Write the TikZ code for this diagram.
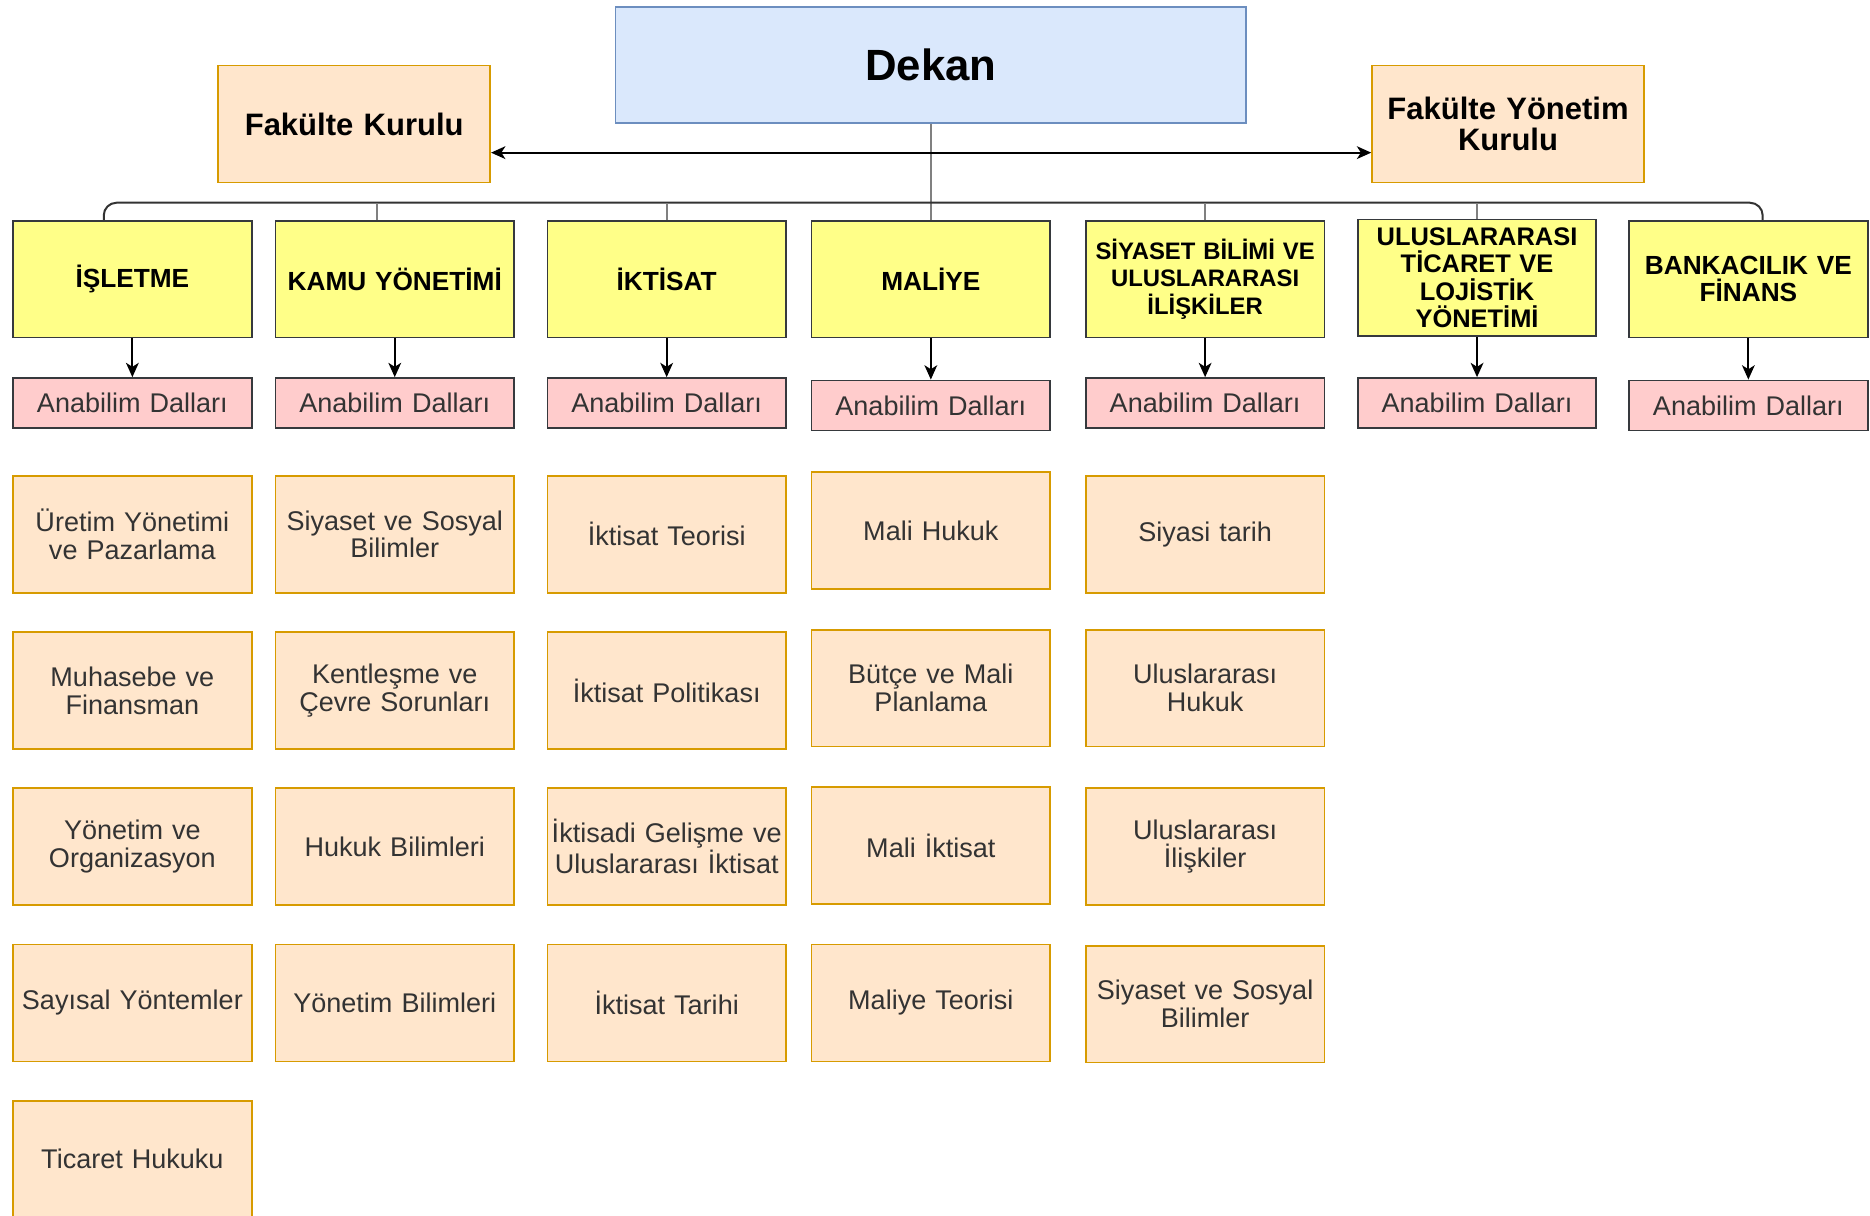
\documentclass[tikz,border=0pt]{standalone}
\usepackage{fontspec}
\setmainfont{Liberation Sans}
\usetikzlibrary{arrows.meta,calc}

\definecolor{dekanfill}{HTML}{DAE8FC}
\definecolor{dekanline}{HTML}{6C8EBF}
\definecolor{kurulfill}{HTML}{FFE6CC}
\definecolor{kurulline}{HTML}{D79B00}
\definecolor{bolumfill}{HTML}{FFFF88}
\definecolor{koyugri}{HTML}{36393D}
\definecolor{dalfill}{HTML}{FFCCCC}

\tikzset{every picture/.style={line width=0.75pt}}
\tikzset{
  dekanbox/.style={draw=dekanline, fill=dekanfill, line width=1.1pt, minimum width=396.75pt, minimum height=72.75pt, font=\fontsize{27.5}{30}\selectfont\bfseries},
  kurulbox/.style={draw=kurulline, fill=kurulfill, line width=1.1pt, minimum width=171pt, minimum height=73.5pt, text width=165pt, inner sep=3pt, align=center, font=\fontsize{19.5}{19.5}\selectfont\bfseries},
  bolumbox/.style={draw=koyugri, fill=bolumfill, line width=1.1pt, minimum width=150pt, minimum height=73.5pt, text width=146pt, inner sep=2pt, align=center, font=\fontsize{16.5}{17.25}\selectfont\bfseries},
  dalbox/.style={draw=koyugri, fill=dalfill, line width=1.1pt, minimum width=150pt, minimum height=31.5pt, text width=146pt, inner sep=2pt, align=center, text=black!80, font=\fontsize{17}{17.5}\selectfont},
  alanbox/.style={draw=kurulline, fill=kurulfill, line width=1.1pt, minimum width=150pt, minimum height=73.5pt, text width=146pt, inner sep=2pt, align=center, text=black!80, font=\fontsize{17}{17.5}\selectfont},
  ok/.style={-{Stealth[length=9pt,width=8pt,inset=2.5pt]}, black, line width=1.25pt},
  hat/.style={color=black!80, line width=1.25pt},
  kol/.style={color=black!50, line width=1.25pt},
}

\begin{document}
\begin{tikzpicture}[x=0.75pt,y=0.75pt,yscale=-1,xscale=1]
        \useasboundingbox (0,0) rectangle (1568,1019);

        %Shape: Rectangle [Dekan]
        \node[dekanbox] (dekan) at (780.5,54.5) {Dekan};
        %Shape: Rectangle [Kurullar]
        \node[kurulbox] (fk) at (297,104) {Fakülte Kurulu};
        \node[kurulbox] (fyk) at (1264.5,104) {Fakülte Yönetim\\Kurulu};

        %Shape: Rectangle [Bolumler]
        \node[bolumbox] (isl) at (111,234) {İŞLETME};
        \node[bolumbox] (kamu) at (331,234) {KAMU YÖNETİMİ};
        \node[bolumbox] (ikt) at (559,234) {İKTİSAT};
        \node[bolumbox] (mal) at (780.5,234) {MALİYE};
        \node[bolumbox, font=\fontsize{15}{17.25}\selectfont\bfseries] (siy) at (1010.5,234) {SİYASET BİLİMİ VE\\ULUSLARARASI\\İLİŞKİLER};
        \node[bolumbox, font=\fontsize{16}{17.25}\selectfont\bfseries] (ulu) at (1238.5,233) {ULUSLARARASI\\TİCARET VE\\LOJİSTİK\\YÖNETİMİ};
        \node[bolumbox] (bank) at (1466,234) {BANKACILIK VE\\FİNANS};

        %Shape: Rectangle [Anabilim Dallari]
        \node[dalbox] (isl-dal) at (111,338) {Anabilim Dalları};
        \node[dalbox] (kamu-dal) at (331,338) {Anabilim Dalları};
        \node[dalbox] (ikt-dal) at (559,338) {Anabilim Dalları};
        \node[dalbox] (mal-dal) at (780.5,340) {Anabilim Dalları};
        \node[dalbox] (siy-dal) at (1010.5,338) {Anabilim Dalları};
        \node[dalbox] (ulu-dal) at (1238.5,338) {Anabilim Dalları};
        \node[dalbox] (bank-dal) at (1466,340) {Anabilim Dalları};

        %Shape: Rectangle [Isletme]
        \node[alanbox] (isl-1) at (111,448) {Üretim Yönetimi\\ve Pazarlama};
        \node[alanbox] (isl-2) at (111,579) {Muhasebe ve\\Finansman};
        \node[alanbox] (isl-3) at (111,710) {Yönetim ve\\Organizasyon};
        \node[alanbox] (isl-4) at (111,841) {Sayısal Yöntemler};
        \node[alanbox] (isl-5) at (111,972) {Ticaret Hukuku};
        %Shape: Rectangle [Kamu Yonetimi]
        \node[alanbox] (kamu-1) at (331,448) {Siyaset ve Sosyal\\Bilimler};
        \node[alanbox] (kamu-2) at (331,579) {Kentleşme ve\\Çevre Sorunları};
        \node[alanbox] (kamu-3) at (331,710) {Hukuk Bilimleri};
        \node[alanbox] (kamu-4) at (331,841) {Yönetim Bilimleri};
        %Shape: Rectangle [Iktisat]
        \node[alanbox] (ikt-1) at (559,448) {İktisat Teorisi};
        \node[alanbox] (ikt-2) at (559,579) {İktisat Politikası};
        \node[alanbox] (ikt-3) at (559,710) {İktisadi Gelişme ve\\Uluslararası İktisat};
        \node[alanbox] (ikt-4) at (559,841) {İktisat Tarihi};
        %Shape: Rectangle [Maliye]
        \node[alanbox] (mal-1) at (780.5,445) {Mali Hukuk};
        \node[alanbox] (mal-2) at (780.5,577) {Bütçe ve Mali\\Planlama};
        \node[alanbox] (mal-3) at (780.5,709) {Mali İktisat};
        \node[alanbox] (mal-4) at (780.5,841) {Maliye Teorisi};
        %Shape: Rectangle [Siyaset Bilimi]
        \node[alanbox] (siy-1) at (1010.5,448) {Siyasi tarih};
        \node[alanbox] (siy-2) at (1010.5,577) {Uluslararası\\Hukuk};
        \node[alanbox] (siy-3) at (1010.5,710) {Uluslararası\\İlişkiler};
        \node[alanbox] (siy-4) at (1010.5,842) {Siyaset ve Sosyal\\Bilimler};

        %Straight Lines [Dekan - Bolumler]
        \coordinate (bus) at (780.5,170);
        \draw[kol] (dekan) -- (mal);
        \draw[hat, rounded corners=8pt] ([xshift=-18pt]isl.north) |- (bus) -| ([xshift=9pt]bank.north);
        \draw[kol] ([xshift=-11.25pt]kamu.north) -- ++(0,-14);
        \draw[kol] (ikt) -- (ikt |- bus);
        \draw[kol] (siy) -- (siy |- bus);
        \draw[kol] (ulu) -- (ulu |- bus);
        %Straight Lines [Dekan - Kurullar]
        \draw[ok, {Stealth[length=9pt,width=8pt,inset=2.5pt]}-{Stealth[length=9pt,width=8pt,inset=2.5pt]}] ([yshift=18pt]fk.east) -- ([yshift=18pt]fyk.west);

        %Straight Lines [Bolumler - Anabilim Dallari]
        \draw[ok] (isl) -- (isl-dal);
        \draw[ok] (kamu) -- (kamu-dal);
        \draw[ok] (ikt) -- (ikt-dal);
        \draw[ok] (mal) -- (mal-dal);
        \draw[ok] (siy) -- (siy-dal);
        \draw[ok] (ulu) -- (ulu-dal);
        \draw[ok] (bank) -- (bank-dal);

    \end{tikzpicture}
\end{document}
